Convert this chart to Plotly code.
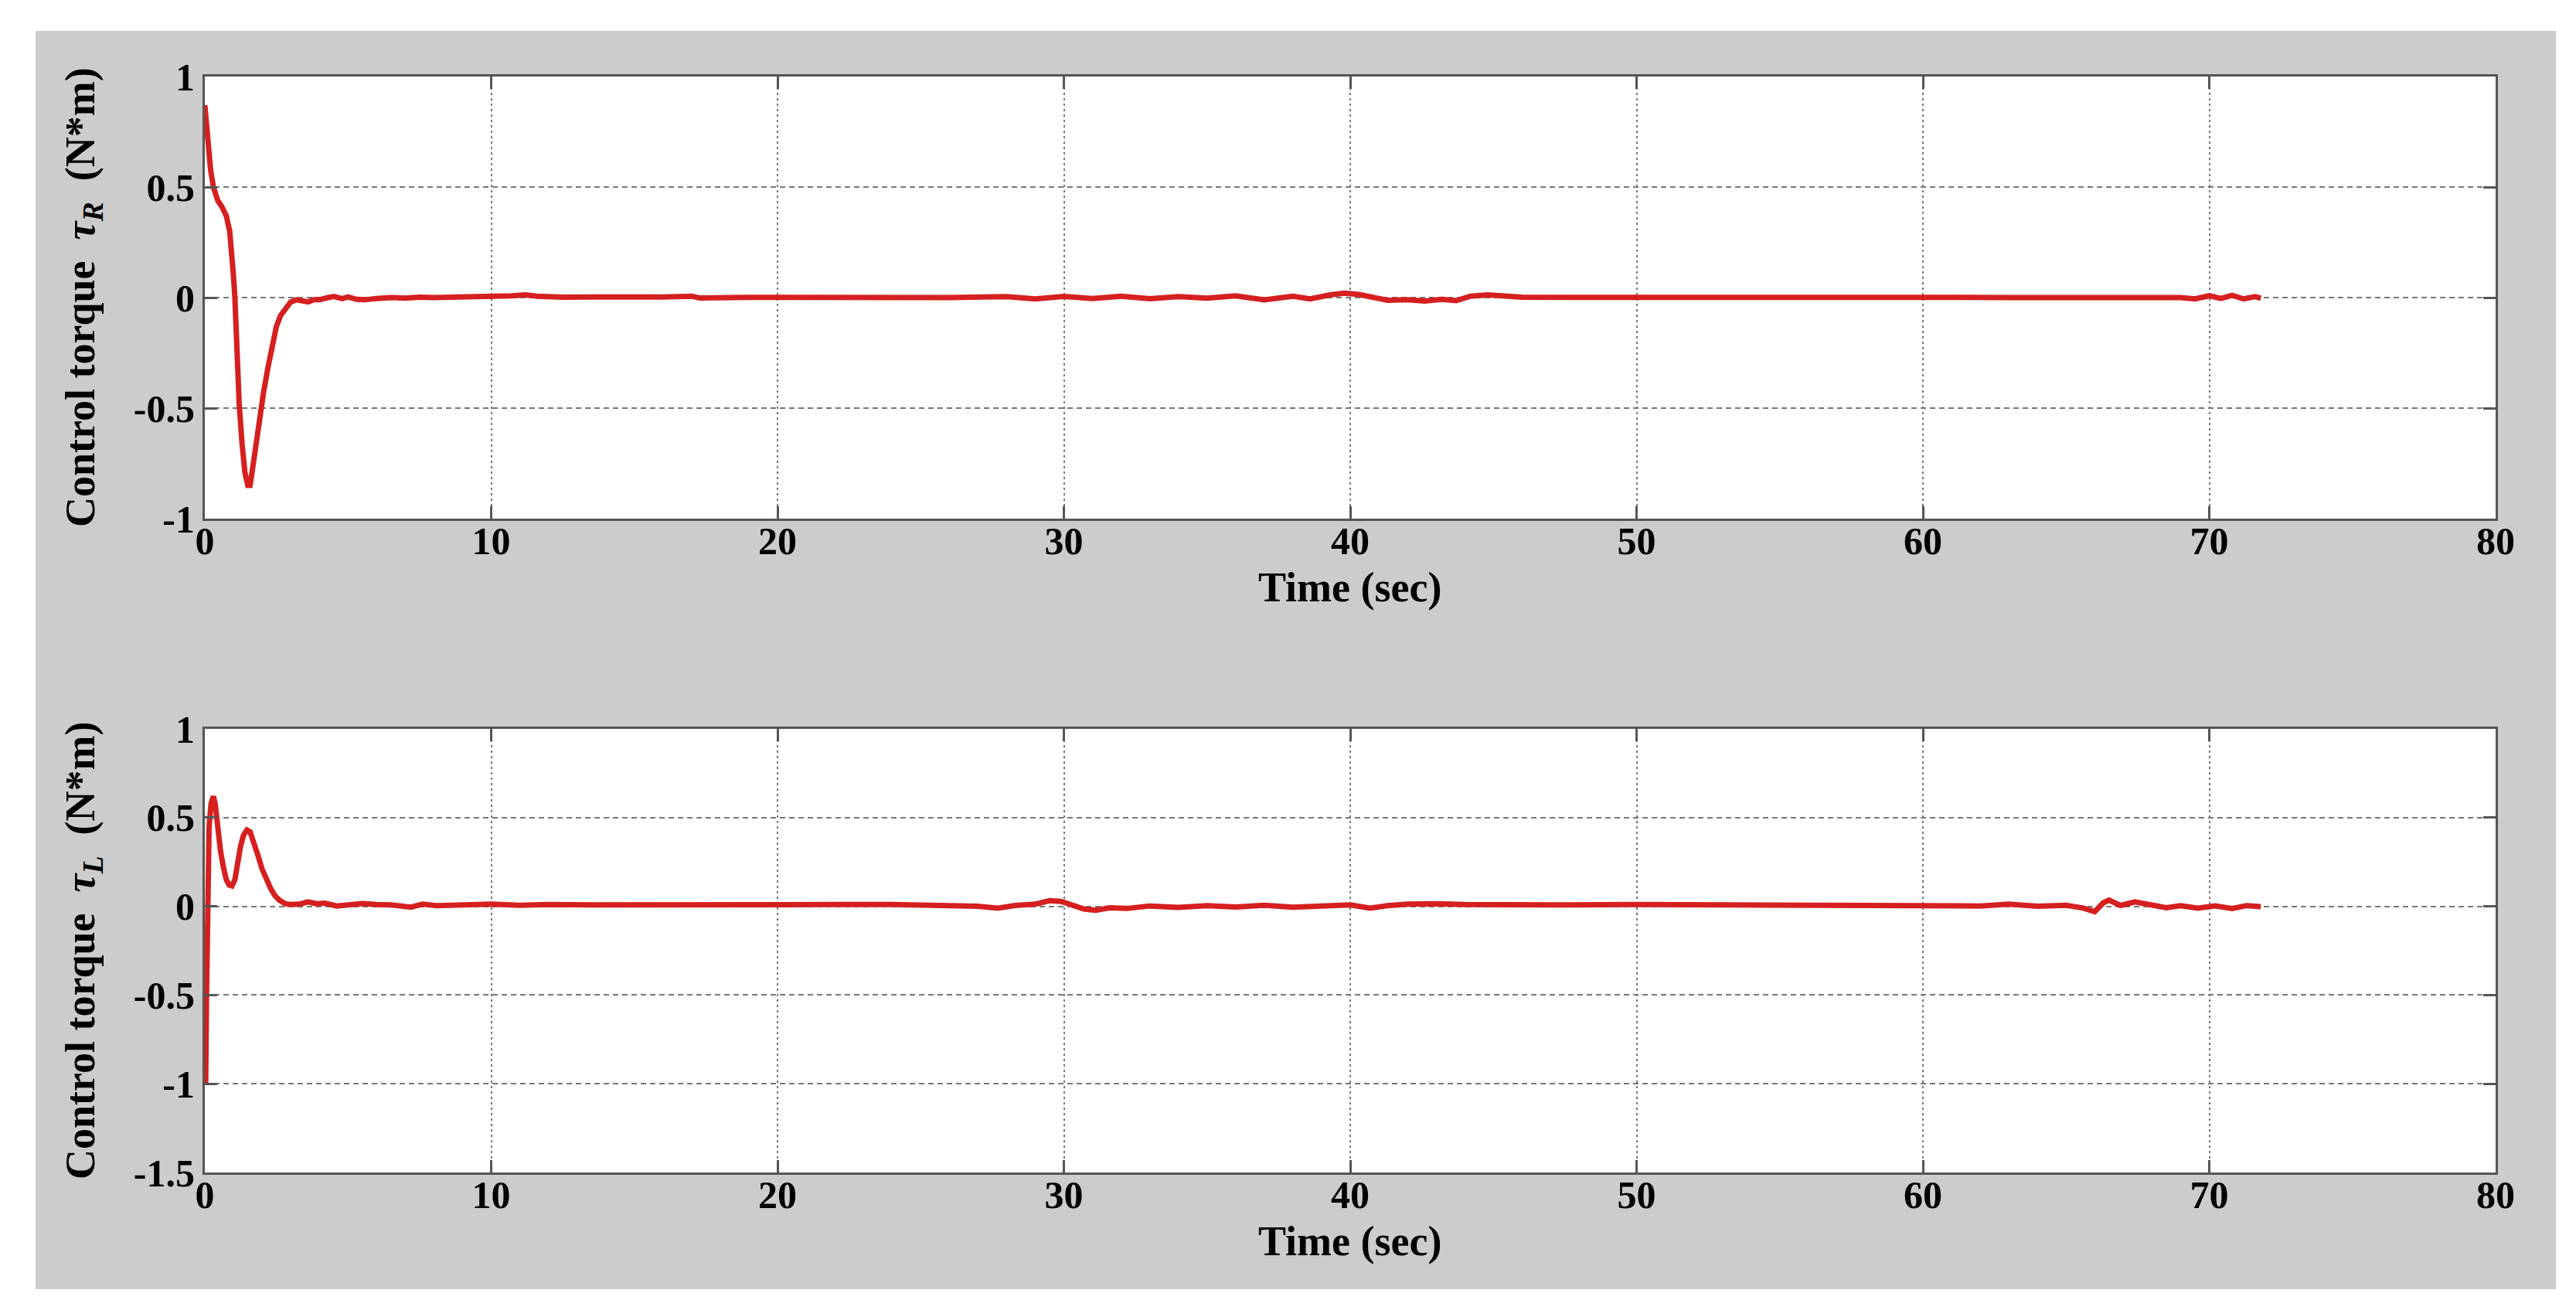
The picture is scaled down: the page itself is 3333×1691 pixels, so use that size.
import plotly.graph_objects as go

# right wheel control torque tau_R
t_right = [0.0, 0.1, 0.2, 0.3, 0.45, 0.6, 0.75, 0.87, 0.95, 1.0, 1.05, 1.12, 1.2, 1.3,
           1.4, 1.5, 1.58, 1.65, 1.75, 1.9, 2.05, 2.2, 2.35, 2.5, 2.65, 2.8, 3.0, 3.2,
           3.4, 3.6, 3.8, 4.0, 4.3, 4.5, 4.8, 5.0, 5.3, 5.6, 6.0, 6.5, 7.0, 7.5, 8.0,
           9.0, 10.0, 10.7, 11.2, 11.6, 12.5, 14, 16, 17, 17.3, 19, 21, 24, 26, 28, 29,
           30, 31, 32, 33, 34, 35, 36, 37, 38, 38.6, 39.3, 39.8, 40.3, 40.8, 41.3, 42,
           42.6, 43.2, 43.7, 44.2, 44.8, 45.3, 46, 48, 50, 53, 56, 60, 63, 66, 69, 69.5,
           70, 70.4, 70.8, 71.2, 71.6, 71.8]
tau_right = [0.87, 0.72, 0.58, 0.50, 0.44, 0.41, 0.37, 0.30, 0.20, 0.10, 0.0, -0.25, -0.48,
             -0.66, -0.79, -0.85, -0.85, -0.79, -0.69, -0.56, -0.43, -0.32, -0.22, -0.13,
             -0.08, -0.05, -0.02, -0.01, -0.015, -0.02, -0.01, -0.01, 0.0, 0.005, -0.005,
             0.003, -0.008, -0.01, -0.004, 0.0, -0.003, 0.002, 0.0, 0.002, 0.003, 0.008,
             0.012, 0.006, 0.002, 0.0, 0.003, 0.006, -0.002, 0.001, 0.0, 0.002, 0.0, 0.004,
             -0.006, 0.005, -0.004, 0.006, -0.005, 0.004, -0.003, 0.008, -0.01, 0.006,
             -0.006, 0.012, 0.02, 0.014, 0.0, -0.012, -0.01, -0.016, -0.008, -0.014, 0.006,
             0.012, 0.008, 0.002, 0.001, 0.002, 0.0, 0.002, 0.001, 0.0, 0.002, 0.0, -0.006,
             0.008, -0.004, 0.01, -0.006, 0.004, -0.003]

# left wheel control torque tau_L
t_left = [0.0, 0.03, 0.06, 0.1, 0.15, 0.22, 0.3, 0.36, 0.45, 0.55, 0.65, 0.75, 0.85, 0.95,
          1.05, 1.15, 1.25, 1.35, 1.47, 1.58, 1.7, 1.85, 2.0, 2.15, 2.3, 2.45, 2.6, 2.8,
          3.0, 3.3, 3.6, 3.9, 4.2, 4.6, 5.0, 5.5, 6.0, 6.5, 7.2, 7.6, 8.1, 9.0, 10, 11, 12,
          14, 16, 18, 20, 22, 24, 26, 27, 27.7, 28.3, 29, 29.5, 29.9, 30.3, 30.7, 31.1,
          31.6, 32.2, 33, 34, 35, 36, 37, 38, 39, 40, 40.7, 41.3, 42, 43, 44, 45, 47, 50,
          53, 56, 59, 61, 62, 63, 64, 65, 65.6, 66.0, 66.3, 66.5, 66.9, 67.4, 67.9, 68.5,
          69, 69.6, 70.2, 70.8, 71.3, 71.8]
tau_left = [-0.95, -1.0, -0.5, 0.1, 0.45, 0.58, 0.62, 0.58, 0.43, 0.31, 0.22, 0.15, 0.12,
            0.115, 0.15, 0.25, 0.34, 0.40, 0.43, 0.42, 0.37, 0.29, 0.21, 0.15, 0.10, 0.06,
            0.035, 0.015, 0.01, 0.012, 0.025, 0.015, 0.018, 0.002, 0.01, 0.016, 0.01, 0.008,
            -0.005, 0.012, 0.004, 0.008, 0.012, 0.006, 0.01, 0.008, 0.01, 0.009, 0.008, 0.01,
            0.01, 0.008, 0.0, -0.01, 0.005, 0.012, 0.032, 0.028, 0.01, -0.015, -0.022,
            -0.008, -0.012, 0.002, -0.006, 0.004, -0.004, 0.006, -0.005, 0.003, 0.008, -0.01,
            0.004, 0.012, 0.015, 0.01, 0.008, 0.008, 0.01, 0.008, 0.01, 0.009, 0.006, 0.002,
            0.012, 0.0, 0.006, -0.01, -0.03, 0.02, 0.035, 0.005, 0.025, 0.01, -0.008, 0.004,
            -0.01, 0.002, -0.012, 0.004, -0.002]

x_ticks = [0, 10, 20, 30, 40, 50, 60, 70, 80]
y1_ticks = [-1, -0.5, 0, 0.5, 1]
y1_labels = ["-1", "-0.5", "0", "0.5", "1"]
y2_ticks = [-1.5, -1, -0.5, 0, 0.5, 1]
y2_labels = ["-1.5", "-1", "-0.5", "0", "0.5", "1"]

W, H = 3333, 1691
RED = "#d61f1f"
AXC = "#555555"
FONT = "Liberation Serif"

fig = go.Figure()
fig.add_trace(go.Scatter(x=t_right, y=tau_right, mode="lines", xaxis="x", yaxis="y",
                         line=dict(color=RED, width=7), showlegend=False))
fig.add_trace(go.Scatter(x=t_left, y=tau_left, mode="lines", xaxis="x2", yaxis="y2",
                         line=dict(color=RED, width=7), showlegend=False))

xdom = [257 / W, 3221 / W]
y1dom = [1 - 663 / H, 1 - 91 / H]
y2dom = [1 - 1509 / H, 1 - 935 / H]
axis_common = dict(
    showline=True, linecolor=AXC, linewidth=3, mirror="ticks",
    ticks="inside", ticklen=16, tickwidth=3, tickcolor=AXC,
    showgrid=True, gridcolor="#777777", gridwidth=2,
    zeroline=False, automargin=False,
    tickfont=dict(family=FONT, size=50, color="black", weight="bold"),
)

# grey figure panel, then white plot areas on top of it
panel_shapes = [dict(type="rect", xref="paper", yref="paper", layer="below",
                     x0=38 / W, x1=3299 / W, y0=1 - 1660 / H, y1=1 - 32 / H,
                     fillcolor="#cccccc", line=dict(width=0))]
for dom in (y1dom, y2dom):
    panel_shapes.append(dict(type="rect", xref="paper", yref="paper", layer="below",
                             x0=xdom[0], x1=xdom[1], y0=dom[0], y1=dom[1],
                             fillcolor="white", line=dict(width=0)))

fig.update_layout(
    width=W, height=H,
    margin=dict(l=0, r=0, t=0, b=0),
    paper_bgcolor="white", plot_bgcolor="rgba(0,0,0,0)",
    xaxis=dict(domain=xdom, anchor="y", range=[0, 80], tickvals=x_ticks,
               griddash="3px,4px", ticklabelstandoff=-17, **axis_common),
    yaxis=dict(domain=y1dom, anchor="x", range=[-1, 1],
               tickvals=y1_ticks, ticktext=y1_labels, griddash="7px,5px",
               ticklabelstandoff=0, **axis_common),
    xaxis2=dict(domain=xdom, anchor="y2", range=[0, 80], tickvals=x_ticks,
                griddash="3px,4px", ticklabelstandoff=-17, **axis_common),
    yaxis2=dict(domain=y2dom, anchor="x2", range=[-1.5, 1],
                tickvals=y2_ticks, ticktext=y2_labels, griddash="7px,5px",
                ticklabelstandoff=0, **axis_common),
    shapes=panel_shapes,
)

title_font = dict(family=FONT, size=54, color="black", weight="bold")
xmid = (xdom[0] + xdom[1]) / 2
for xt_y, yt_y, sub in [(1 - 752 / H, 1 - 377 / H, "R"),
                        (1 - 1598 / H, 1 - 1222 / H, "L")]:
    fig.add_annotation(text="Time (sec)", xref="paper", yref="paper", x=xmid, y=xt_y,
                       showarrow=False, font=title_font, xanchor="center", yanchor="middle")
    fig.add_annotation(text="Control torque\u00a0\u00a0<i>\u03c4</i><sub><i>" + sub
                       + "</i></sub>\u00a0\u00a0(N*m)",
                       xref="paper", yref="paper", x=99 / W, y=yt_y, textangle=-90,
                       showarrow=False, font=title_font, xanchor="center", yanchor="middle")

fig.write_html("out.html")
